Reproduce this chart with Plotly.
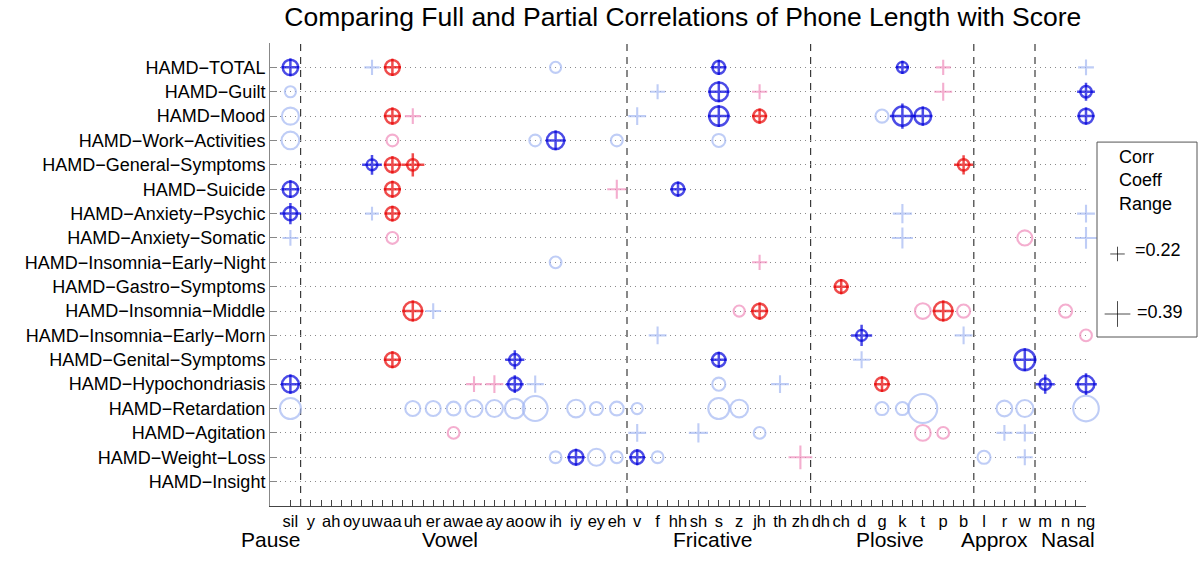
import plotly.graph_objects as go

# ---------------- data ----------------
phones = ["sil", "y", "ah", "oy", "uw", "aa", "uh", "er", "aw", "ae", "ay", "ao", "ow", "ih",
          "iy", "ey", "eh", "v", "f", "hh", "sh", "s", "z", "jh", "th", "zh", "dh", "ch", "d",
          "g", "k", "t", "p", "b", "l", "r", "w", "m", "n", "ng"]

scales = ["HAMD\u2212TOTAL", "HAMD\u2212Guilt", "HAMD\u2212Mood", "HAMD\u2212Work\u2212Activities",
          "HAMD\u2212General\u2212Symptoms", "HAMD\u2212Suicide", "HAMD\u2212Anxiety\u2212Psychic",
          "HAMD\u2212Anxiety\u2212Somatic", "HAMD\u2212Insomnia\u2212Early\u2212Night",
          "HAMD\u2212Gastro\u2212Symptoms", "HAMD\u2212Insomnia\u2212Middle",
          "HAMD\u2212Insomnia\u2212Early\u2212Morn", "HAMD\u2212Genital\u2212Symptoms",
          "HAMD\u2212Hypochondriasis", "HAMD\u2212Retardation", "HAMD\u2212Agitation",
          "HAMD\u2212Weight\u2212Loss", "HAMD\u2212Insight"]

group_names = ["Pause", "Vowel", "Fricative", "Plosive", "Approx", "Nasal"]
group_last_phone = ["sil", "eh", "zh", "b", "w", "ng"]
group_label_x = [-0.95, 7.8, 20.7, 29.4, 34.5, 38.1]

# one entry per marked cell: row (scale index), phone, circle |r|, cross |r|, colour code
# colour codes: B = dark blue, R = red, b = light blue, r = pink ; 0 = marker absent
pt_row = [0, 0, 0, 0, 0, 0, 0, 0,
          1, 1, 1, 1, 1, 1,
          2, 2, 2, 2, 2, 2, 2, 2, 2, 2,
          3, 3, 3, 3, 3, 3,
          4, 4, 4, 4,
          5, 5, 5, 5,
          6, 6, 6, 6, 6,
          7, 7, 7, 7, 7,
          8, 8,
          9,
          10, 10, 10, 10, 10, 10, 10, 10,
          11, 11, 11, 11,
          12, 12, 12, 12, 12,
          13, 13, 13, 13, 13, 13, 13, 13, 13, 13,
          14, 14, 14, 14, 14, 14, 14, 14, 14, 14, 14, 14, 14, 14, 14, 14, 14, 14, 14, 14,
          15, 15, 15, 15, 15, 15, 15, 15,
          16, 16, 16, 16, 16, 16, 16, 16, 16]
pt_phone = ["sil", "uw", "aa", "ih", "s", "k", "p", "ng",
            "sil", "f", "s", "jh", "p", "ng",
            "sil", "aa", "uh", "v", "s", "jh", "g", "k", "t", "ng",
            "sil", "aa", "ow", "ih", "eh", "s",
            "uw", "aa", "uh", "b",
            "sil", "aa", "eh", "hh",
            "sil", "uw", "aa", "k", "ng",
            "sil", "aa", "k", "w", "ng",
            "ih", "jh",
            "ch",
            "uh", "er", "z", "jh", "t", "p", "b", "n",
            "f", "d", "b", "ng",
            "aa", "ao", "s", "d", "w",
            "sil", "ae", "ay", "ao", "ow", "s", "th", "g", "m", "ng",
            "sil", "uh", "er", "aw", "ae", "ay", "ao", "ow", "iy", "ey", "eh", "v", "s", "z",
            "g", "k", "t", "r", "w", "ng",
            "aw", "v", "sh", "jh", "t", "p", "r", "w",
            "ih", "iy", "ey", "eh", "v", "f", "zh", "l", "w"]
pt_circle = [0.27, 0, 0.26, 0.20, 0.23, 0.20, 0, 0,
             0.20, 0, 0.32, 0, 0, 0.21,
             0.29, 0.26, 0, 0, 0.33, 0.23, 0.23, 0.33, 0.29, 0.26,
             0.30, 0.21, 0.21, 0.30, 0.21, 0.23,
             0.20, 0.26, 0.21, 0.21,
             0.27, 0.26, 0, 0.23,
             0.24, 0, 0.24, 0, 0,
             0, 0.21, 0, 0.26, 0,
             0.21, 0,
             0.23,
             0.32, 0, 0.20, 0.26, 0.27, 0.32, 0.23, 0.23,
             0, 0.20, 0, 0.21,
             0.26, 0.21, 0.24, 0, 0.35,
             0.29, 0, 0, 0.24, 0, 0.23, 0, 0.24, 0.21, 0.29,
             0.35, 0.26, 0.26, 0.24, 0.29, 0.29, 0.33, 0.41, 0.30, 0.23, 0.24, 0.20, 0.35, 0.30,
             0.23, 0.23, 0.47, 0.27, 0.29, 0.42,
             0.21, 0, 0, 0.21, 0.27, 0.21, 0, 0,
             0.21, 0.26, 0.29, 0.21, 0.24, 0.21, 0, 0.23, 0]
pt_cross = [0.27, 0.23, 0.26, 0, 0.23, 0.20, 0.23, 0.24,
            0, 0.23, 0.32, 0.23, 0.27, 0.27,
            0, 0.26, 0.24, 0.27, 0.33, 0.23, 0, 0.38, 0.29, 0.26,
            0, 0, 0, 0.30, 0, 0,
            0.30, 0.26, 0.35, 0.29,
            0.27, 0.26, 0.29, 0.23,
            0.32, 0.21, 0.24, 0.29, 0.27,
            0.24, 0, 0.32, 0, 0.33,
            0, 0.23,
            0.23,
            0.32, 0.24, 0, 0.26, 0, 0.32, 0, 0,
            0.27, 0.32, 0.27, 0,
            0.26, 0.29, 0.24, 0.26, 0.35,
            0.29, 0.24, 0.27, 0.27, 0.26, 0, 0.27, 0.24, 0.29, 0.33,
            0, 0, 0, 0, 0, 0, 0, 0, 0, 0, 0, 0, 0, 0,
            0, 0, 0, 0, 0, 0,
            0, 0.27, 0.29, 0, 0, 0, 0.24, 0.26,
            0, 0.26, 0, 0, 0.24, 0, 0.36, 0, 0.24]
pt_color = ["B", "b", "R", "b", "B", "B", "r", "b",
            "b", "b", "B", "r", "r", "B",
            "b", "R", "r", "b", "B", "R", "b", "B", "B", "B",
            "b", "r", "b", "B", "b", "b",
            "B", "R", "R", "R",
            "B", "R", "r", "B",
            "B", "b", "R", "b", "b",
            "b", "r", "b", "r", "b",
            "b", "r",
            "R",
            "R", "b", "r", "R", "r", "R", "r", "r",
            "b", "B", "b", "r",
            "R", "B", "B", "b", "B",
            "B", "r", "r", "B", "b", "b", "b", "R", "B", "B",
            "b", "b", "b", "b", "b", "b", "b", "b", "b", "b", "b", "b", "b", "b",
            "b", "b", "b", "b", "b", "b",
            "r", "b", "b", "b", "r", "r", "b", "b",
            "b", "B", "b", "b", "B", "b", "r", "b", "b"]

legend_values = [0.22, 0.39]

# ---------------- styling ----------------
PX_PER_R = 66.0          # marker extent in pixels per unit of |r|
colors = {"b": "#a4b8f2", "r": "#ef8cba", "B": "#0000dc", "R": "#e80000"}
widths = {"b": 2.1, "r": 2.1, "B": 2.5, "R": 2.5}
FONT = "Liberation Sans, Arial, Helvetica, sans-serif"

pidx = {p: i for i, p in enumerate(phones)}

fig = go.Figure()

for code in ["b", "r", "B", "R"]:
    cx, cy, cs = [], [], []
    kx, ky, ks = [], [], []
    for r, ph, c, k, col in zip(pt_row, pt_phone, pt_circle, pt_cross, pt_color):
        if col != code:
            continue
        if c > 0:
            cx.append(pidx[ph]); cy.append(r); cs.append(c * PX_PER_R - widths[code])
        if k > 0:
            kx.append(pidx[ph]); ky.append(r); ks.append(k * PX_PER_R / 1.4)
    if cx:
        fig.add_trace(go.Scatter(x=cx, y=cy, mode="markers", hoverinfo="skip", showlegend=False,
                                 cliponaxis=False,
                                 marker=dict(symbol="circle-open", size=cs, color=colors[code],
                                             line=dict(width=widths[code], color=colors[code]))))
    if kx:
        fig.add_trace(go.Scatter(x=kx, y=ky, mode="markers", hoverinfo="skip", showlegend=False,
                                 cliponaxis=False,
                                 marker=dict(symbol="cross-thin-open", size=ks, color=colors[code],
                                             line=dict(width=widths[code], color=colors[code]))))

# legend glyphs on their own small axes
fig.add_trace(go.Scatter(x=[0.205, 0.205], y=[0.426, 0.118], xaxis="x2", yaxis="y2",
                         mode="markers", hoverinfo="skip", showlegend=False, cliponaxis=False,
                         marker=dict(symbol="cross-thin-open",
                                     size=[v * PX_PER_R / 1.4 for v in legend_values],
                                     color="#000000", line=dict(width=1, color="#000000"))))

# group boundaries
shapes = []
for ph in group_last_phone[:-1]:
    xb = pidx[ph] + 0.5
    shapes.append(dict(type="line", xref="x", yref="y domain", x0=xb, x1=xb, y0=0, y1=1,
                       line=dict(color="#3a3a3a", width=1.2, dash="7px,6px"), layer="below"))
shapes.append(dict(type="rect", xref="x2 domain", yref="y2 domain", x0=0, x1=1, y0=0, y1=1,
                   line=dict(color="#555555", width=1), fillcolor="rgba(255,255,255,0)"))

annotations = []
for name, gx in zip(group_names, group_label_x):
    annotations.append(dict(x=gx, y=-0.0734, xref="x", yref="paper", text=name, showarrow=False,
                            xanchor="center", yanchor="middle",
                            font=dict(size=21, color="#000000", family=FONT)))
for txt, yy in zip(["Corr", "Coeff", "Range"], [0.923, 0.805, 0.682]):
    annotations.append(dict(x=0.20, y=yy, xref="x2 domain", yref="y2 domain", text=txt,
                            showarrow=False, xanchor="left", yanchor="middle",
                            font=dict(size=18, color="#000000", family=FONT)))
for v, xx, yy in zip(legend_values, [0.36, 0.38], [0.446, 0.128]):
    annotations.append(dict(x=xx, y=yy, xref="x2 domain", yref="y2 domain", text="=%.2f" % v,
                            showarrow=False, xanchor="left", yanchor="middle",
                            font=dict(size=18, color="#000000", family=FONT)))

fig.update_layout(
    width=1200, height=570,
    margin=dict(l=270, r=3, t=43, b=64, autoexpand=False),
    paper_bgcolor="white", plot_bgcolor="white",
    showlegend=False,
    title=dict(text="Comparing Full and Partial Correlations of Phone Length with Score",
               x=0.569, xref="container", xanchor="center", y=0.970, yref="container",
               yanchor="middle", font=dict(size=26.5, color="#000000", family=FONT)),
    xaxis=dict(domain=[0, 816 / 927], range=[-1, 39], tickmode="array",
               tickvals=list(range(len(phones))), ticktext=phones, tickangle=0,
               ticks="inside", ticklen=6, tickcolor="#444444", tickwidth=1,
               showline=True, linecolor="#444444", linewidth=1,
               showgrid=False, zeroline=False, automargin=False,
               minor=dict(tickmode="array", tickvals=[i + 0.5 for i in range(len(phones) - 1)],
                          ticks="inside", ticklen=6, tickcolor="#444444", showgrid=False),
               tickfont=dict(size=16.5, color="#000000", family=FONT)),
    yaxis=dict(range=[18, -1], tickmode="array", tickvals=list(range(len(scales))),
               ticktext=scales, ticks="inside", ticklen=7, tickcolor="#888888",
               showline=True, linecolor="#888888", linewidth=1, automargin=False,
               showgrid=True, gridcolor="#8a8a8a", gridwidth=1, griddash="1px,4px",
               zeroline=False, tickfont=dict(size=18, color="#000000", family=FONT)),
    xaxis2=dict(domain=[(1097 - 270) / 927, 1.0], range=[0, 1], visible=False, anchor="y2"),
    yaxis2=dict(domain=[0.365, 0.786], range=[0, 1], visible=False, anchor="x2"),
    shapes=shapes,
    annotations=annotations,
)

fig.write_html("out.html", config={"displayModeBar": False},
               post_script="document.body.style.margin='0px';")
